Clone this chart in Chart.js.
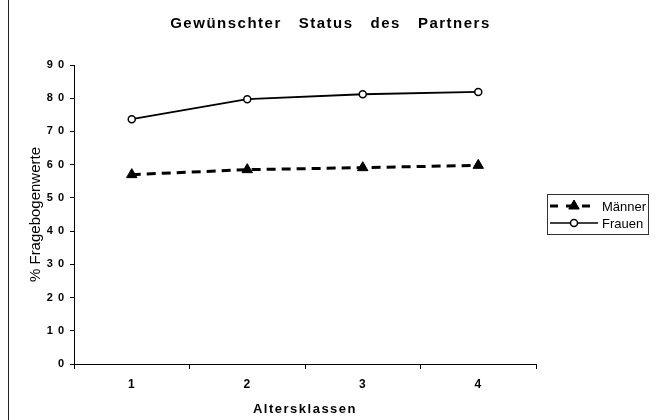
<!DOCTYPE html>
<html>
<head>
  <meta charset="UTF-8">
  <title>Gewünschter Status des Partners</title>
  <script src="https://cdn.jsdelivr.net/npm/chart.js"></script>
  <style>
    html, body {
      margin: 0;
      padding: 0;
      background: #fff;
    }
    .frame {
      position: relative;
      width: 661px;
      height: 420px;
    }
    .frame::before {
      content: '';
      position: absolute;
      left: 8px;
      top: 0;
      bottom: 0;
      border-left: 1px solid #222;
    }
  </style>
</head>
<body>
  <div class="frame">
    <canvas id="chart" width="661" height="420"></canvas>
  </div>

  <script>
    const ageClasses = ['1', '2', '3', '4'];
    const maennerValues = [57.0, 58.5, 59.1, 59.8];
    const frauenValues = [73.7, 79.7, 81.2, 81.9];
    const yTicks = [0, 10, 20, 30, 40, 50, 60, 70, 80, 90];

    const FONT = "'Liberation Sans', Arial, sans-serif";

    // draw a method of obj with extra letter spacing (the scan uses spaced type)
    function spaced(chart, obj, method, px) {
      const orig = obj[method].bind(obj);
      obj[method] = function(...args) {
        chart.ctx.save();
        chart.ctx.letterSpacing = px;
        orig(...args);
        chart.ctx.restore();
      };
    }

    // legend as its own layout box on the right, so the title stays centred on the page
    const sideLegend = {
      id: 'sideLegend',
      beforeInit(chart) {
        const box = {
          position: 'right',
          weight: 0,
          fullSize: false,
          options: {},
          left: 0, top: 0, right: 0, bottom: 0, width: 0, height: 0,
          isHorizontal() { return false; },
          update(maxWidth, maxHeight) {
            this.width = 125;
            this.height = maxHeight;
          },
          draw() {
            const ctx = chart.ctx;
            const area = chart.chartArea;
            const w = 101, h = 40;
            const x = this.left + 11;
            const y = Math.round((area.top + area.bottom) / 2 - h / 2) - 1;
            ctx.save();
            ctx.letterSpacing = '0px';
            ctx.strokeStyle = '#333';
            ctx.lineWidth = 1;
            ctx.strokeRect(x + 0.5, y + 0.5, w, h);

            chart.data.datasets.forEach((ds, i) => {
              const ly = y + 12 + i * 17;
              ctx.strokeStyle = '#000';
              ctx.lineWidth = ds.borderDash ? 3 : 1.5;
              ctx.setLineDash(ds.borderDash ? [8, 8] : []);
              ctx.beginPath();
              ctx.moveTo(x + 3, ly);
              ctx.lineTo(x + 51, ly);
              ctx.stroke();
              ctx.setLineDash([]);
              ctx.fillStyle = ds.pointBackgroundColor;
              ctx.strokeStyle = ds.pointBorderColor;
              ctx.lineWidth = ds.pointBorderWidth;
              Chart.helpers.drawPoint(ctx, {
                pointStyle: ds.pointStyle,
                radius: ds.pointRadius,
                borderWidth: ds.pointBorderWidth,
                rotation: 0
              }, x + 27, ly);
              ctx.fillStyle = '#000';
              ctx.font = '13px ' + FONT;
              ctx.textBaseline = 'middle';
              ctx.fillText(ds.label, x + 55, ly + 1);
            });
            ctx.restore();
          }
        };
        Chart.layouts.addBox(chart, box);
      },
      beforeDraw(chart) {
        if (chart.$spaced) return;
        chart.$spaced = true;
        spaced(chart, chart.titleBlock, 'draw', '1.5px');
        spaced(chart, chart.scales.x, 'drawLabels', '1px');
        spaced(chart, chart.scales.y, 'drawLabels', '1px');
        spaced(chart, chart.scales.x, 'drawTitle', '1.5px');
      }
    };

    new Chart(document.getElementById('chart'), {
      type: 'line',
      data: {
        labels: ageClasses,
        datasets: [
          {
            label: 'Männer',
            data: maennerValues,
            borderColor: '#000',
            backgroundColor: '#000',
            borderWidth: 3,
            borderDash: [9, 6],
            pointStyle: 'triangle',
            pointRadius: 6,
            pointBorderWidth: 1,
            pointBackgroundColor: '#000',
            pointBorderColor: '#000',
            tension: 0
          },
          {
            label: 'Frauen',
            data: frauenValues,
            borderColor: '#000',
            backgroundColor: '#fff',
            borderWidth: 1.8,
            pointStyle: 'circle',
            pointRadius: 3.5,
            pointBorderWidth: 1.5,
            pointBackgroundColor: '#fff',
            pointBorderColor: '#000',
            tension: 0
          }
        ]
      },
      options: {
        responsive: false,
        animation: false,
        layout: {
          padding: { left: 0, right: 0, top: 0, bottom: 0 }
        },
        plugins: {
          legend: { display: false },
          tooltip: { enabled: false },
          title: {
            display: true,
            text: 'Gewünschter   Status   des   Partners',
            color: '#000',
            font: { family: FONT, size: 15, weight: 'bold' },
            padding: { top: 15, bottom: 32 }
          }
        },
        scales: {
          x: {
            offset: true,
            afterFit(scale) { scale.height = 56; },
            grid: {
              offset: true,
              drawOnChartArea: false,
              color: '#000',
              tickLength: 5
            },
            border: { color: '#000', width: 1 },
            ticks: {
              color: '#000',
              padding: 8,
              font: { family: FONT, size: 12, weight: 'bold' }
            },
            title: {
              display: true,
              text: 'Altersklassen',
              color: '#000',
              font: { family: FONT, size: 13, weight: 'bold' },
              padding: { top: 4, bottom: 3 }
            }
          },
          y: {
            min: yTicks[0],
            max: yTicks[yTicks.length - 1],
            afterFit(scale) { scale.width = 74; },
            afterBuildTicks(scale) {
              scale.ticks = yTicks.map(v => ({ value: v }));
            },
            grid: {
              drawOnChartArea: false,
              color: '#000',
              tickLength: 4
            },
            border: { color: '#000', width: 1 },
            ticks: {
              color: '#000',
              padding: 5,
              font: { family: FONT, size: 11, weight: 'bold' },
              callback: v => String(v).split('').join(' ')
            },
            title: {
              display: true,
              text: '% Fragebogenwerte',
              color: '#000',
              font: { family: FONT, size: 15 },
              padding: { top: 27, bottom: 0 }
            }
          }
        }
      },
      plugins: [sideLegend]
    });
  </script>
</body>
</html>
